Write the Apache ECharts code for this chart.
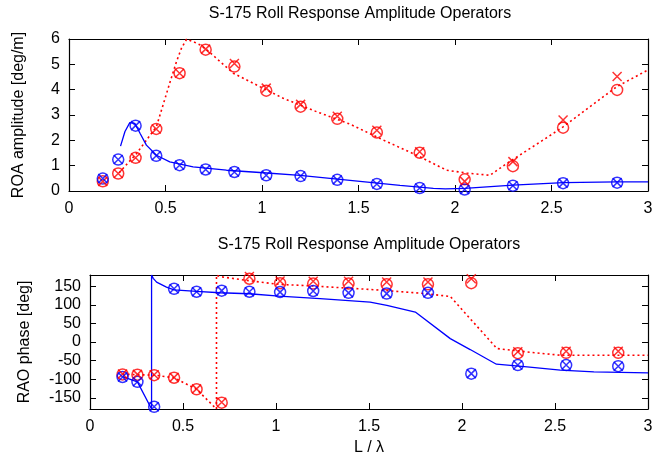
<!DOCTYPE html>
<html>
<head>
<meta charset="utf-8">
<script src="https://cdn.jsdelivr.net/npm/echarts@6/dist/echarts.min.js"></script>
<style>
  html, body { margin: 0; padding: 0; background: #fff; }
  #chart { width: 669px; height: 463px; }
</style>
</head>
<body>
<div id="chart"></div>
<script>
// Wave length ratio L / lambda of the measured points
const lambdaRatio = [0.175, 0.255, 0.345, 0.452, 0.573, 0.708, 0.857, 1.022, 1.2, 1.39, 1.595, 1.817, 2.05, 2.3, 2.56, 2.84];

// Roll amplitude [deg/m], measured
const ampBlueCircle = [0.49, 1.24, 2.58, 1.39, 1.02, 0.85, 0.75, 0.62, 0.59, 0.44, 0.28, 0.12, 0.06, 0.21, 0.31, 0.33];
const ampBlueCross  = [0.49, 1.24, 2.58, 1.39, 1.02, 0.85, 0.75, 0.62, 0.59, 0.44, 0.28, 0.12, 0.06, 0.21, 0.31, 0.33];
const ampRedCircle  = [0.38, 0.69, 1.31, 2.45, 4.65, 5.58, 4.91, 3.96, 3.33, 2.85, 2.31, 1.51, 0.46, 0.98, 2.50, 3.99];
const ampRedCross   = [0.38, 0.69, 1.31, 2.45, 4.65, 5.60, 5.03, 4.06, 3.42, 2.95, 2.40, 1.55, 0.38, 1.16, 2.80, 4.52];

// Roll amplitude [deg/m], computed curves as [L/lambda, value]
const ampBlueCurve = [
  [0.267, 1.77], [0.29, 2.35], [0.315, 2.70], [0.341, 2.67], [0.37, 2.25], [0.401, 1.81],
  [0.453, 1.41], [0.522, 1.15], [0.643, 0.95], [0.816, 0.82], [0.989, 0.73], [1.197, 0.62],
  [1.456, 0.42], [1.715, 0.22], [1.888, 0.10], [1.95, 0.08], [2.05, 0.10], [2.3, 0.23],
  [2.562, 0.33], [2.839, 0.36], [3.0, 0.36]
];
const ampRedCurve = [
  [0.26, 0.72], [0.35, 1.48], [0.453, 2.54], [0.522, 4.26], [0.557, 5.11], [0.583, 5.64],
  [0.609, 5.99], [0.643, 5.90], [0.678, 5.77], [0.713, 5.58], [0.851, 4.65], [0.989, 4.12],
  [1.11, 3.66], [1.283, 3.13], [1.456, 2.64], [1.629, 2.01], [1.802, 1.41], [1.957, 0.82],
  [2.06, 0.71], [2.181, 0.62], [2.269, 1.09], [2.442, 1.94], [2.562, 2.54], [2.7, 3.33],
  [2.839, 4.12], [3.0, 4.78]
];

// Roll phase [deg], measured
const phBlueCircle = [-94, -107, -174, 143, 135, 138, 135, 134, 137, 132, 130, 132, -85, -62, -62, -65];
const phBlueCross  = [-94, -107, -174, 143, 135, 138, 135, 134, 137, 132, 130, 132, -85, -62, -62, -65];
const phRedCircle  = [-87, -88, -89, -96, -127, -163, 170, 158, 157, 157, 155, 155, 158, -30, -29, -29];
const phRedCross   = [-86, -87, -88, -95, -126, -162, 176, 164, 163, 163, 161, 161, 170, -26, -25, -25];

// Roll phase [deg], computed curves
const phBlueCurve = [
  [0.175, -93], [0.255, -107], [0.331, -180], [0.331, 180], [0.34, 171], [0.358, 160.7],
  [0.411, 147.3], [0.452, 140], [0.573, 135.8], [0.698, 132.3], [0.856, 129.6], [1.016, 123.2],
  [1.237, 116.3], [1.506, 107.2], [1.596, 98.3], [1.749, 80.4], [1.937, 9.1], [2.044, -20.3],
  [2.185, -59.7], [2.35, -66.9], [2.529, -75.8], [2.709, -80.3], [3.0, -83]
];
const phRedCurve = [
  [0.175, -86], [0.255, -88], [0.345, -89], [0.452, -96], [0.573, -127], [0.68, -180],
  [0.68, 180], [0.695, 176], [0.842, 165.5], [1.02, 154.6], [1.147, 151.9], [1.506, 141.2],
  [1.775, 131.3], [1.937, 122.4], [2.044, 62.6], [2.188, -17.6], [2.35, -26.7],
  [2.529, -35.6], [3.0, -35.6]
];

const phaseTicks = [-150, -100, -50, 0, 50, 100, 150];

const FONT = 'Liberation Sans';
const RED = '#ff0000';
const BLUE = '#0000ff';

const pair = (xs, ys) => xs.map((x, i) => [x, ys[i]]);
const crossPath = 'path://M0,0L10,10M10,0L0,10';
const ringPath = 'path://M10,5A5,5 0 1 1 0,5A5,5 0 1 1 10,5Z';

function markerSeries(xi, yi, data, color, isCross) {
  return {
    type: 'scatter', xAxisIndex: xi, yAxisIndex: yi, data: data,
    symbol: isCross ? crossPath : ringPath,
    symbolSize: isCross ? 9 : 11,
    itemStyle: { color: 'none', borderColor: color, borderWidth: 1.5 },
    emphasis: { disabled: true }, silent: true, z: isCross ? 4 : 3
  };
}
function curveSeries(xi, yi, data, color, dotted) {
  return {
    type: 'line', xAxisIndex: xi, yAxisIndex: yi, data: data,
    showSymbol: false, symbol: 'none', clip: true, silent: true, z: 2,
    lineStyle: { color: color, width: dotted ? 1.6 : 1.3, type: dotted ? [2, 3] : 'solid' }
  };
}

const tickStyle = { show: true, inside: true, length: 6, lineStyle: { color: '#000', width: 1 } };
const lineStyle = { show: true, onZero: false, lineStyle: { color: '#000', width: 1.2 } };
const labelStyle = { color: '#000', fontFamily: FONT, fontSize: 16 };
const nameStyle = { color: '#000', fontFamily: FONT, fontSize: 16 };

function xAxisPair(gi) {
  const base = { gridIndex: gi, type: 'value', min: 0, max: 3, interval: 0.5,
    splitLine: { show: false }, axisLine: lineStyle, axisTick: tickStyle };
  return [
    Object.assign({}, base, { position: 'bottom',
      axisLabel: Object.assign({ margin: 10 }, labelStyle),
      name: gi === 1 ? 'L / λ' : '', nameLocation: 'middle', nameGap: 31, nameTextStyle: nameStyle }),
    Object.assign({}, base, { position: 'top', axisLabel: { show: false } })
  ];
}

const option = {
  animation: false,
  backgroundColor: '#fff',
  graphic: [
    { type: 'text', x: 360, y: 14, style: { text: 'S-175 Roll Response Amplitude Operators',
      font: '16px ' + FONT, fill: '#000', align: 'center', verticalAlign: 'middle' } },
    { type: 'text', x: 369, y: 245, style: { text: 'S-175 Roll Response Amplitude Operators',
      font: '16px ' + FONT, fill: '#000', align: 'center', verticalAlign: 'middle' } }
  ],
  grid: [
    { left: 69, right: 21, top: 39, height: 152 },
    { left: 90, right: 21, top: 275, height: 134 }
  ],
  xAxis: [].concat(xAxisPair(0), xAxisPair(1)),
  yAxis: [
    { gridIndex: 0, type: 'value', min: 0, max: 6, interval: 1, position: 'left',
      splitLine: { show: false }, axisLine: lineStyle, axisTick: tickStyle,
      axisLabel: Object.assign({ margin: 9 }, labelStyle),
      name: 'ROA amplitude [deg/m]', nameLocation: 'middle', nameGap: 42, nameTextStyle: nameStyle },
    { gridIndex: 0, type: 'value', min: 0, max: 6, interval: 1, position: 'right',
      splitLine: { show: false }, axisLine: lineStyle, axisTick: tickStyle, axisLabel: { show: false } },
    { gridIndex: 1, type: 'value', min: -180, max: 180, position: 'left',
      splitLine: { show: false }, axisLine: lineStyle,
      axisTick: Object.assign({ customValues: phaseTicks }, tickStyle),
      axisLabel: Object.assign({ margin: 9, customValues: phaseTicks }, labelStyle),
      name: 'RAO phase [deg]', nameLocation: 'middle', nameGap: 57, nameTextStyle: nameStyle },
    { gridIndex: 1, type: 'value', min: -180, max: 180, position: 'right',
      splitLine: { show: false }, axisLine: lineStyle,
      axisTick: Object.assign({ customValues: phaseTicks }, tickStyle),
      axisLabel: { show: false, customValues: phaseTicks } }
  ],
  series: [
    curveSeries(0, 0, ampRedCurve, RED, true),
    curveSeries(0, 0, ampBlueCurve, BLUE, false),
    markerSeries(0, 0, pair(lambdaRatio, ampRedCircle), RED, false),
    markerSeries(0, 0, pair(lambdaRatio, ampRedCross), RED, true),
    markerSeries(0, 0, pair(lambdaRatio, ampBlueCircle), BLUE, false),
    markerSeries(0, 0, pair(lambdaRatio, ampBlueCross), BLUE, true),

    curveSeries(2, 2, phRedCurve, RED, true),
    curveSeries(2, 2, phBlueCurve, BLUE, false),
    markerSeries(2, 2, pair(lambdaRatio, phRedCircle), RED, false),
    markerSeries(2, 2, pair(lambdaRatio, phRedCross), RED, true),
    markerSeries(2, 2, pair(lambdaRatio, phBlueCircle), BLUE, false),
    markerSeries(2, 2, pair(lambdaRatio, phBlueCross), BLUE, true)
  ]
};

const chart = echarts.init(document.getElementById('chart'), null, { renderer: 'canvas' });
chart.setOption(option);
</script>
</body>
</html>
